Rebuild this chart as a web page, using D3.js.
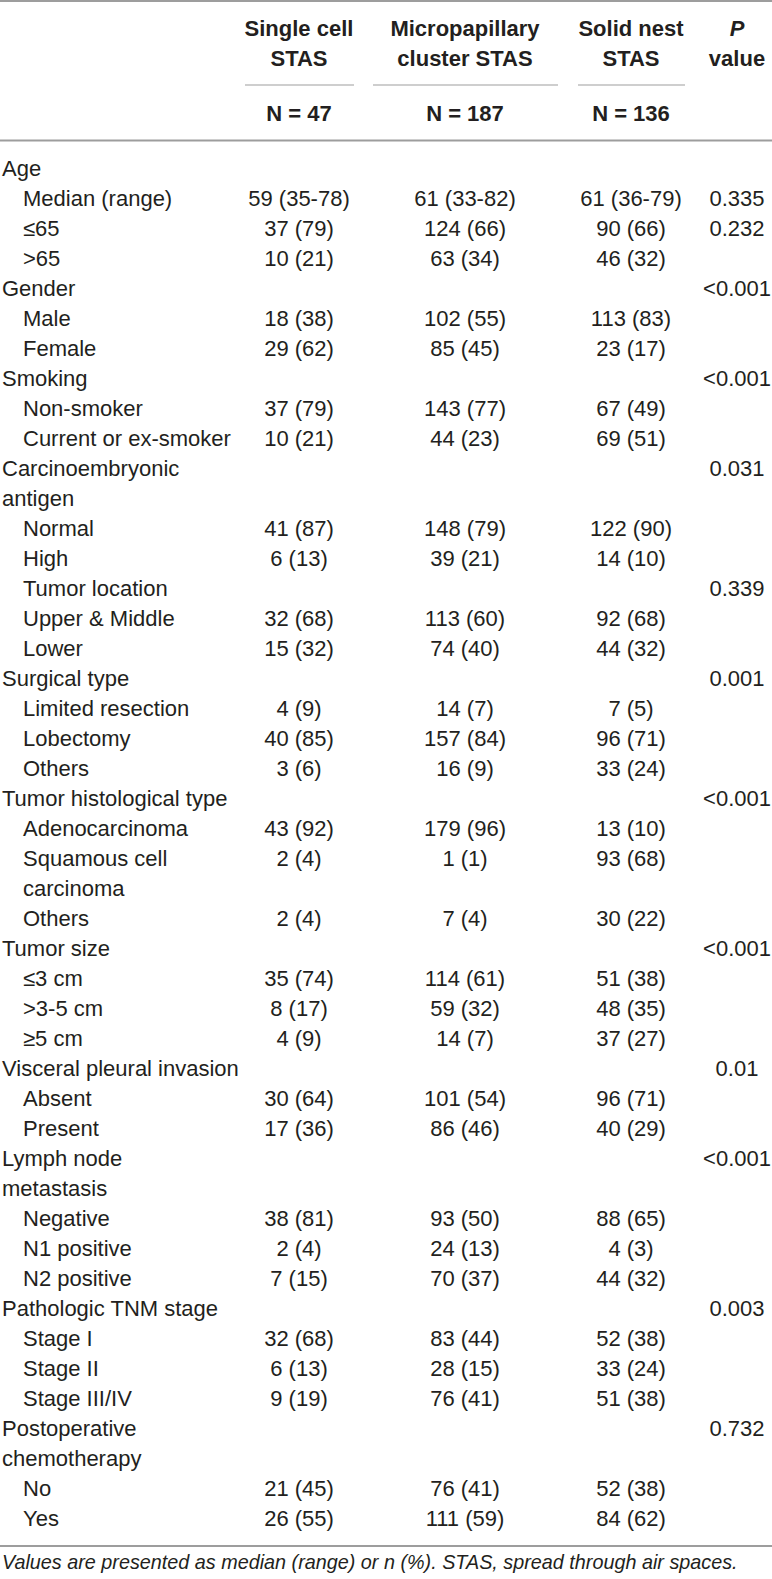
<!DOCTYPE html>
<html>
<head>
<meta charset="utf-8">
<script src="https://cdnjs.cloudflare.com/ajax/libs/d3/7.8.5/d3.min.js"></script>
<style>
  body { margin: 0; background: #fff; }
  svg text { font-family: "Liberation Sans", Arial, sans-serif; fill: #231f20; }
</style>
</head>
<body>
<div id="table"></div>
<script>
// column headers
var colHeaders = [["Single cell", "STAS"], ["Micropapillary", "cluster STAS"], ["Solid nest", "STAS"]];
var colN = ["N = 47", "N = 187", "N = 136"];

// row labels ("\n" = wrapped line), indent level 0 = category, 1 = sub-item
var rowLabels = ["Age", "Median (range)", "\u226465", ">65",
  "Gender", "Male", "Female",
  "Smoking", "Non-smoker", "Current or ex-smoker",
  "Carcinoembryonic\nantigen", "Normal", "High",
  "Tumor location", "Upper & Middle", "Lower",
  "Surgical type", "Limited resection", "Lobectomy", "Others",
  "Tumor histological type", "Adenocarcinoma", "Squamous cell\ncarcinoma", "Others",
  "Tumor size", "\u22643 cm", ">3-5 cm", "\u22655 cm",
  "Visceral pleural invasion", "Absent", "Present",
  "Lymph node\nmetastasis", "Negative", "N1 positive", "N2 positive",
  "Pathologic TNM stage", "Stage I", "Stage II", "Stage III/IV",
  "Postoperative\nchemotherapy", "No", "Yes"];
var rowLevel = [0, 1, 1, 1, 0, 1, 1, 0, 1, 1, 0, 1, 1, 1, 1, 1, 0, 1, 1, 1, 0, 1, 1, 1,
  0, 1, 1, 1, 0, 1, 1, 0, 1, 1, 1, 0, 1, 1, 1, 0, 1, 1];

var singleCell = ["", "59 (35-78)", "37 (79)", "10 (21)", "", "18 (38)", "29 (62)", "", "37 (79)", "10 (21)",
  "", "41 (87)", "6 (13)", "", "32 (68)", "15 (32)", "", "4 (9)", "40 (85)", "3 (6)",
  "", "43 (92)", "2 (4)", "2 (4)", "", "35 (74)", "8 (17)", "4 (9)", "", "30 (64)", "17 (36)",
  "", "38 (81)", "2 (4)", "7 (15)", "", "32 (68)", "6 (13)", "9 (19)", "", "21 (45)", "26 (55)"];
var micropapillary = ["", "61 (33-82)", "124 (66)", "63 (34)", "", "102 (55)", "85 (45)", "", "143 (77)", "44 (23)",
  "", "148 (79)", "39 (21)", "", "113 (60)", "74 (40)", "", "14 (7)", "157 (84)", "16 (9)",
  "", "179 (96)", "1 (1)", "7 (4)", "", "114 (61)", "59 (32)", "14 (7)", "", "101 (54)", "86 (46)",
  "", "93 (50)", "24 (13)", "70 (37)", "", "83 (44)", "28 (15)", "76 (41)", "", "76 (41)", "111 (59)"];
var solidNest = ["", "61 (36-79)", "90 (66)", "46 (32)", "", "113 (83)", "23 (17)", "", "67 (49)", "69 (51)",
  "", "122 (90)", "14 (10)", "", "92 (68)", "44 (32)", "", "7 (5)", "96 (71)", "33 (24)",
  "", "13 (10)", "93 (68)", "30 (22)", "", "51 (38)", "48 (35)", "37 (27)", "", "96 (71)", "40 (29)",
  "", "88 (65)", "4 (3)", "44 (32)", "", "52 (38)", "33 (24)", "51 (38)", "", "52 (38)", "84 (62)"];
var pValues = ["", "0.335", "0.232", "", "<0.001", "", "", "<0.001", "", "",
  "0.031", "", "", "0.339", "", "", "0.001", "", "", "",
  "<0.001", "", "", "", "<0.001", "", "", "", "0.01", "", "",
  "<0.001", "", "", "", "0.003", "", "", "", "0.732", "", ""];

var footnote = "Values are presented as median (range) or n (%). STAS, spread through air spaces.";

var width = 772, height = 1579;
var fontSize = 22;
var lineColor = "#9d9d9d";

var svg = d3.select("#table").append("svg")
  .attr("width", width)
  .attr("height", height);

// turn rows into text lines
var lines = [];
rowLabels.forEach(function (lab, i) {
  lab.split("\n").forEach(function (part, j) {
    lines.push({ text: part, level: rowLevel[i], row: i, first: j === 0 });
  });
});

// vertical scale: line index -> text centre
var y = d3.scaleLinear().domain([0, lines.length - 1]).range([168, 1518]);

// horizontal: label indent and column centres
var indent = d3.scaleOrdinal().domain([0, 1]).range([2, 23]);
var colKeys = ["single", "micro", "solid", "p"];
var x = d3.scaleOrdinal().domain(colKeys).range([299, 465, 631, 737]);
var underline = [[245, 354], [373, 558], [578, 685]];

// rules
[1, 140.5, 1546].forEach(function (ry) {
  svg.append("line").attr("x1", 0).attr("x2", width).attr("y1", ry).attr("y2", ry)
    .attr("stroke", lineColor).attr("stroke-width", 2);
});

// header
var head = svg.append("g").attr("font-weight", "bold").attr("font-size", fontSize + "px")
  .attr("text-anchor", "middle");
colHeaders.forEach(function (h, i) {
  h.forEach(function (t, j) {
    head.append("text").attr("x", x(colKeys[i])).attr("y", 28 + j * 30)
      .attr("dy", "0.35em").text(t);
  });
  head.append("text").attr("x", x(colKeys[i])).attr("y", 113).attr("dy", "0.35em").text(colN[i]);
  svg.append("line").attr("x1", underline[i][0]).attr("x2", underline[i][1])
    .attr("y1", 85).attr("y2", 85).attr("stroke", lineColor).attr("stroke-width", 1.2);
});
head.append("text").attr("x", x("p")).attr("y", 28).attr("dy", "0.35em")
  .attr("font-style", "italic").text("P");
head.append("text").attr("x", x("p")).attr("y", 58).attr("dy", "0.35em").text("value");

// body labels
var body = svg.append("g").attr("font-size", fontSize + "px");
body.selectAll("text.label")
  .data(lines)
  .enter().append("text")
  .attr("class", "label")
  .attr("x", function (d) { return indent(d.level); })
  .attr("y", function (d, i) { return y(i); })
  .attr("dy", "0.35em")
  .text(function (d) { return d.text; });

// body values (placed on the first line of each row)
var firstLines = [];
lines.forEach(function (d, i) { if (d.first) firstLines.push(i); });
var series = [singleCell, micropapillary, solidNest, pValues];
series.forEach(function (vals, c) {
  body.append("g").attr("text-anchor", "middle")
    .selectAll("text")
    .data(vals)
    .enter().append("text")
    .attr("x", x(colKeys[c]))
    .attr("y", function (d, i) { return y(firstLines[i]); })
    .attr("dy", "0.35em")
    .text(function (d) { return d; });
});

// footnote
svg.append("text").attr("x", 2).attr("y", 1562).attr("dy", "0.35em")
  .attr("font-size", "19.8px").attr("font-style", "italic")
  .text(footnote);
</script>
</body>
</html>
